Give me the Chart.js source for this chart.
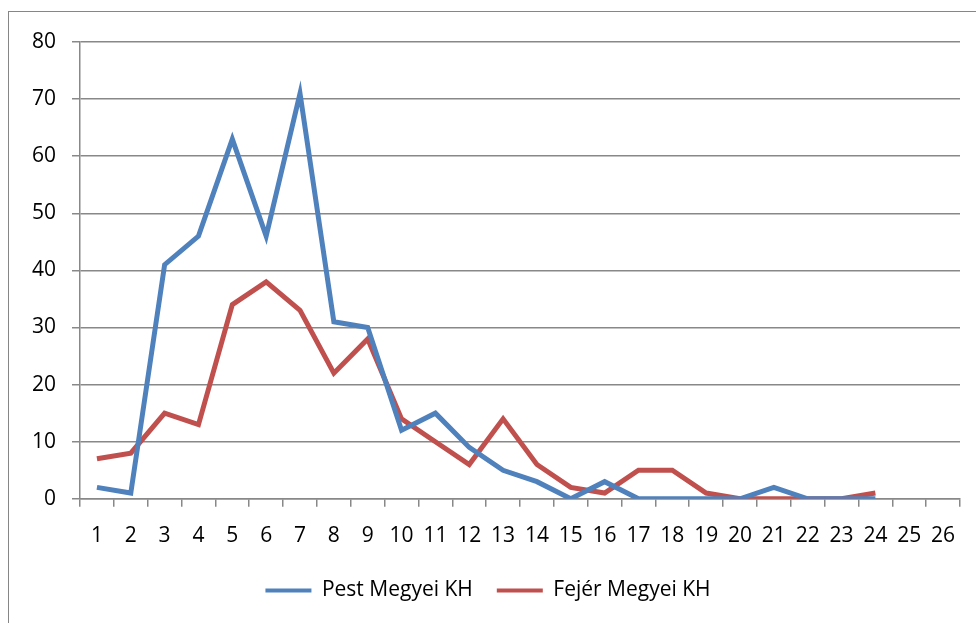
<!DOCTYPE html>
<html>
<head>
<meta charset="utf-8">
<script src="https://cdn.jsdelivr.net/npm/chart.js@4/dist/chart.umd.min.js"></script>
<style>
  html, body { margin: 0; padding: 0; background: #fff; }
  #wrap { position: relative; width: 976px; height: 623px; }
  #frame { position: absolute; left: 8px; top: 11px; width: 975px; height: 620px; border: 1px solid #868686; box-sizing: border-box; }
  canvas { position: absolute; left: 0; top: 0; }
</style>
</head>
<body>
<div id="wrap">
  <div id="frame"></div>
  <canvas id="chart" width="976" height="623"></canvas>
</div>
<script>
const categories = ['1','2','3','4','5','6','7','8','9','10','11','12','13','14','15','16','17','18','19','20','21','22','23','24','25','26'];
const pest = [2, 1, 41, 46, 63, 46, 71, 31, 30, 12, 15, 9, 5, 3, 0, 3, 0, 0, 0, 0, 2, 0, 0, 0, null, null];
const fejer = [7, 8, 15, 13, 34, 38, 33, 22, 28, 14, 10, 6, 14, 6, 2, 1, 5, 5, 1, 0, 0, 0, 0, 1, null, null];
const yTicks = [0, 10, 20, 30, 40, 50, 60, 70, 80];

const font = { family: '"Open Sans", sans-serif', size: 21 };
const gridColor = '#888888';

const ctx = document.getElementById('chart').getContext('2d');
new Chart(ctx, {
    type: 'line',
    data: {
        labels: categories,
        datasets: [
            {
                label: 'Pest Megyei KH',
                data: pest,
                borderColor: '#4F81BD',
                backgroundColor: '#4F81BD',
                borderWidth: 5,
                pointRadius: 0,
                tension: 0,
            },
            {
                label: 'Fejér Megyei KH',
                data: fejer,
                borderColor: '#C0504D',
                backgroundColor: '#C0504D',
                borderWidth: 5,
                pointRadius: 0,
                tension: 0,
            },
        ],
    },
    options: {
        responsive: false,
        animation: false,
        layout: { padding: { left: 16, right: 16, top: 42, bottom: 12 } },
        plugins: {
            legend: {
                position: 'bottom',
                labels: {
                    font: font,
                    color: '#000',
                    boxWidth: 46,
                    boxHeight: 4,
                    padding: 24,
                    generateLabels: (chart) => chart.data.datasets.map((ds, i) => ({
                        text: ds.label,
                        fillStyle: ds.borderColor,
                        strokeStyle: ds.borderColor,
                        lineWidth: 0,
                        datasetIndex: i,
                        fontColor: '#000',
                    })),
                },
            },
            tooltip: { enabled: false },
        },
        scales: {
            x: {
                offset: true,
                afterFit: (scale) => { scale.height = scale.height - 10; },
                grid: { display: true, offset: true, drawOnChartArea: false, color: gridColor, lineWidth: 1.5, tickLength: 8 },
                border: { color: gridColor, width: 1.5 },
                ticks: { font: font, color: '#000', padding: 17, autoSkip: false, maxRotation: 0 },
            },
            y: {
                min: 0,
                max: 80,
                afterBuildTicks: (scale) => { scale.ticks = yTicks.map(v => ({ value: v })); },
                grid: { color: gridColor, lineWidth: 1.5, tickLength: 8 },
                border: { color: gridColor, width: 1.5 },
                ticks: { font: font, color: '#000', padding: 16 },
            },
        },
    },
});
</script>
</body>
</html>
